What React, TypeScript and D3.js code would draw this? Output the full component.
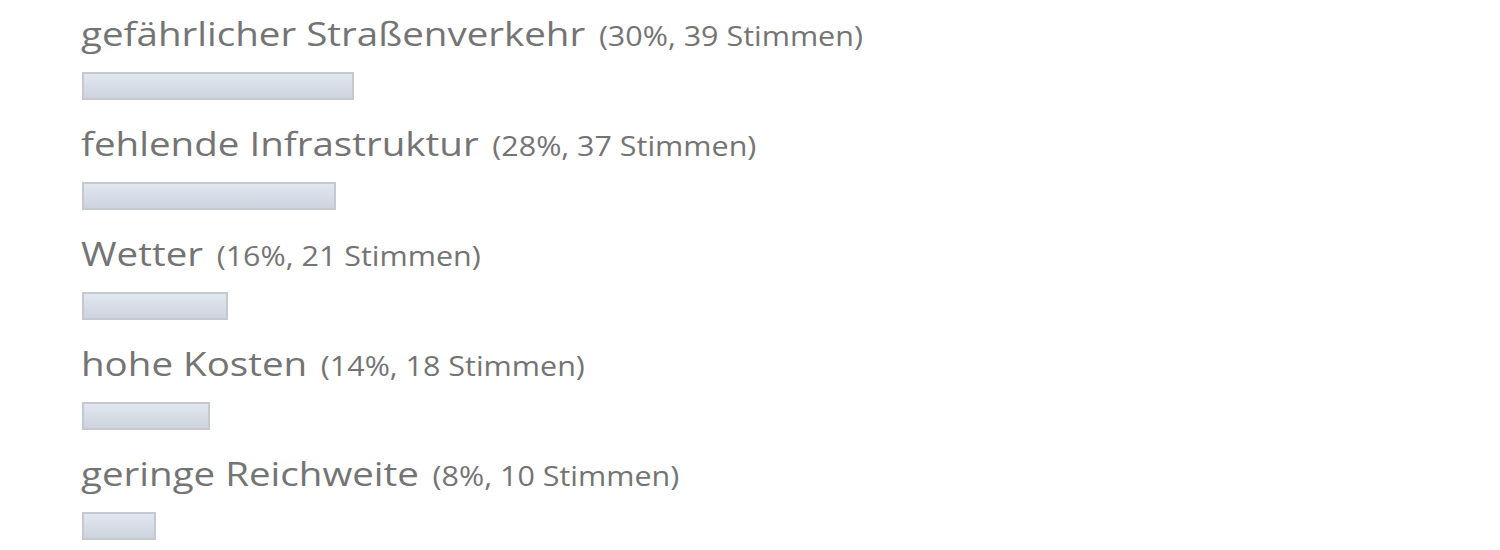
import { useEffect, useRef } from "react";
import * as d3 from "d3";

// Poll answers
const labels = [
  "gefährlicher Straßenverkehr",
  "fehlende Infrastruktur",
  "Wetter",
  "hohe Kosten",
  "geringe Reichweite",
];
const percents = [30, 28, 16, 14, 8];
const votes = [39, 37, 21, 18, 10];

const WIDTH = 1500;
const HEIGHT = 550;

export default function App() {
  const svgRef = useRef<SVGSVGElement>(null);

  useEffect(() => {
    const svg = d3.select(svgRef.current);
    svg.selectAll("*").remove();

    const left = 83;
    const x = d3.scaleLinear().domain([0, 30]).range([0, 270]);
    const y = d3
      .scaleBand<string>()
      .domain(labels)
      .range([0, labels.length * 110]);

    const defs = svg.append("defs");
    const grad = defs
      .append("linearGradient")
      .attr("id", "barGrad")
      .attr("x1", 0)
      .attr("y1", 0)
      .attr("x2", 0)
      .attr("y2", 1);
    grad.append("stop").attr("offset", "0%").attr("stop-color", "#e2e8f0");
    grad.append("stop").attr("offset", "100%").attr("stop-color", "#ccd3de");

    const rows = svg
      .selectAll("g.row")
      .data(labels)
      .join("g")
      .attr("class", "row")
      .attr("transform", (d) => `translate(0,${y(d)})`);

    // the source text is a bit stretched sideways
    const text = rows
      .append("text")
      .attr("transform", "translate(81,46) scale(1.15,1)")
      .attr("fill", "#747474")
      .attr("font-family", "'Open Sans', sans-serif");

    text
      .append("tspan")
      .attr("font-size", 33.5)
      .text((d) => d);

    text
      .append("tspan")
      .attr("font-size", 26.5)
      .attr("dx", 5)
      .text((d, i) => ` (${percents[i]}%, ${votes[i]} Stimmen)`);

    rows
      .append("rect")
      .attr("x", left)
      .attr("y", 73)
      .attr("width", (d, i) => x(percents[i]))
      .attr("height", 26)
      .attr("fill", "url(#barGrad)")
      .attr("stroke", "#c5c8cc")
      .attr("stroke-width", 2);
  }, []);

  return (
    <svg
      ref={svgRef}
      width={WIDTH}
      height={HEIGHT}
      style={{ position: "absolute", left: 0, top: 0, background: "#fff" }}
    />
  );
}
